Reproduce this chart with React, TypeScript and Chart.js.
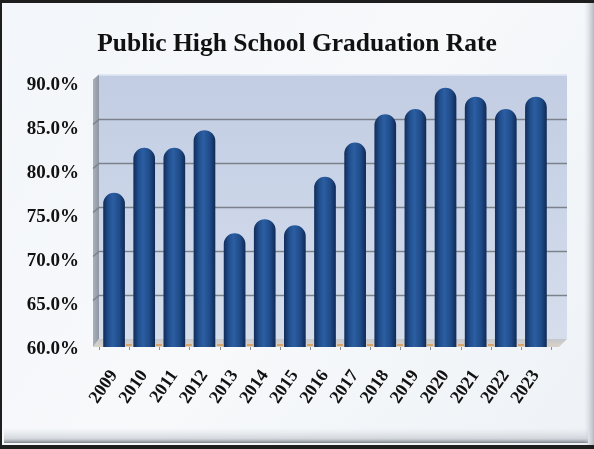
import React, { useEffect, useRef } from "react";
import { Chart, registerables } from "chart.js";
Chart.register(...registerables);

const chartTitle = "Public High School Graduation Rate";
const years = ["2009", "2010", "2011", "2012", "2013", "2014", "2015", "2016", "2017", "2018", "2019", "2020", "2021", "2022", "2023"];
const rates = [76.6, 81.7, 81.7, 83.7, 72.0, 73.6, 72.9, 78.4, 82.3, 85.5, 86.1, 88.5, 87.5, 86.1, 87.5];
const yTicks = [60, 65, 70, 75, 80, 85, 90];
const yMin = 59.1;
const yMax = 90;

const FONT = "'Liberation Serif', 'Times New Roman', serif";

const scenePlugin = {
  id: "scene",
  beforeDraw(chart: any) {
    const { ctx, width, height } = chart;
    ctx.save();
    ctx.fillStyle = "#1e1e1e";
    ctx.fillRect(0, 0, width, height);
    const g = ctx.createLinearGradient(0, 0, width, height);
    g.addColorStop(0, "#f3f6fa");
    g.addColorStop(0.5, "#f7f9fb");
    g.addColorStop(1, "#eef2f6");
    ctx.fillStyle = g;
    ctx.fillRect(2, 3, width - 2, height - 7);
    const sb = ctx.createLinearGradient(0, 428, 0, 443);
    sb.addColorStop(0, "rgba(205,210,216,0)");
    sb.addColorStop(0.7, "rgba(190,195,202,0.6)");
    sb.addColorStop(1, "rgba(125,130,138,1)");
    ctx.fillStyle = sb;
    ctx.fillRect(4, 428, width - 10, 15);
    const rs = ctx.createLinearGradient(584, 0, 594, 0);
    rs.addColorStop(0, "rgba(215,219,225,0)");
    rs.addColorStop(1, "rgba(180,185,192,1)");
    ctx.fillStyle = rs;
    ctx.fillRect(584, 3, 10, height - 7);
    ctx.restore();
  },
  beforeDatasetsDraw(chart: any) {
    const { ctx, chartArea } = chart;
    const y = chart.scales.y;
    const L = chartArea.left;
    const R = chartArea.right + 16;
    const top = y.getPixelForValue(yMax);
    const base = y.getPixelForValue(60);
    const bottom = chartArea.bottom;
    ctx.save();
    const wg = ctx.createLinearGradient(0, top, 0, base);
    wg.addColorStop(0, "#c2cde3");
    wg.addColorStop(0.5, "#cbd5e8");
    wg.addColorStop(1, "#d6deec");
    ctx.fillStyle = wg;
    ctx.fillRect(L, top, R - L, base - top);
    ctx.strokeStyle = "#e6ecf5";
    ctx.lineWidth = 1;
    ctx.beginPath();
    ctx.moveTo(L, top + 0.5);
    ctx.lineTo(R, top + 0.5);
    ctx.stroke();
    const sg = ctx.createLinearGradient(L - 6, 0, L, 0);
    sg.addColorStop(0, "#aab1bc");
    sg.addColorStop(1, "#8e96a3");
    ctx.fillStyle = sg;
    ctx.beginPath();
    ctx.moveTo(L - 6, top + 5);
    ctx.lineTo(L, top);
    ctx.lineTo(L, base);
    ctx.lineTo(L - 6, bottom);
    ctx.closePath();
    ctx.fill();
    ctx.strokeStyle = "#7c828c";
    ctx.lineWidth = 1.5;
    for (const v of yTicks) {
      if (v === 60 || v === 90) continue;
      const py = Math.round(y.getPixelForValue(v)) + 0.5;
      ctx.beginPath();
      ctx.moveTo(L - 6, py + 5);
      ctx.lineTo(L, py);
      ctx.lineTo(R, py);
      ctx.stroke();
    }
    const fg = ctx.createLinearGradient(0, base, 0, bottom);
    fg.addColorStop(0, "#c4c6cc");
    fg.addColorStop(1, "#d9d3c8");
    ctx.fillStyle = fg;
    ctx.beginPath();
    ctx.moveTo(L, base);
    ctx.lineTo(R, base);
    ctx.lineTo(R - 8, bottom);
    ctx.lineTo(L - 6, bottom);
    ctx.closePath();
    ctx.fill();
    const n = years.length;
    const cw = (chartArea.right - chartArea.left) / n;
    ctx.strokeStyle = "#d9a36a";
    ctx.lineWidth = 2;
    for (let i = 1; i < n; i++) {
      const px = Math.round(chartArea.left + i * cw);
      ctx.beginPath();
      ctx.moveTo(px - 3, bottom - 2);
      ctx.lineTo(px + 3, bottom - 2);
      ctx.stroke();
    }
    ctx.strokeStyle = "#8a8f98";
    ctx.lineWidth = 1;
    for (let i = 0; i <= n; i++) {
      const px = Math.round(chartArea.left + i * cw) + 0.5;
      ctx.beginPath();
      ctx.moveTo(px, bottom);
      ctx.lineTo(px, bottom + 3);
      ctx.stroke();
    }
    ctx.restore();
  },
};

function barFill(c: any) {
  const chart = c.chart;
  const area = chart.chartArea;
  if (!area || !chart.scales || !chart.scales.x) return "#1f4d8c";
  const cx = chart.scales.x.getPixelForValue(c.dataIndex);
  const cw = (area.right - area.left) / years.length;
  const bw = cw * 0.9 * 0.8;
  const g = chart.ctx.createLinearGradient(cx - bw / 2, 0, cx + bw / 2, 0);
  g.addColorStop(0, "#112c5a");
  g.addColorStop(0.25, "#22508f");
  g.addColorStop(0.45, "#2b5ea2");
  g.addColorStop(0.75, "#1f4b88");
  g.addColorStop(1, "#102a55");
  return g;
}

export default function App() {
  const ref = useRef<HTMLCanvasElement | null>(null);
  useEffect(() => {
    if (!ref.current) return;
    const chart = new Chart(ref.current, {
      type: "bar",
      data: {
        labels: years,
        datasets: [
          {
            data: rates,
            backgroundColor: barFill,
            borderWidth: 0,
            borderRadius: { topLeft: 11, topRight: 11, bottomLeft: 0, bottomRight: 0 },
            borderSkipped: false,
            barPercentage: 0.9,
            categoryPercentage: 0.8,
          },
        ],
      },
      options: {
        responsive: false,
        animation: false,
        devicePixelRatio: 1,
        layout: { padding: { left: 0, right: 0, top: 0, bottom: 0 } },
        plugins: {
          legend: { display: false },
          tooltip: { enabled: false },
          title: {
            display: true,
            text: chartTitle,
            color: "#111",
            font: { family: FONT, size: 25.5, weight: "bold", lineHeight: 1.2 },
            padding: { top: 29, bottom: 15 },
          },
        },
        scales: {
          x: {
            grid: { display: false },
            border: { display: false },
            ticks: {
              color: "#111",
              font: { family: FONT, size: 18, weight: "bold" },
              minRotation: 55,
              maxRotation: 55,
              padding: 11,
              autoSkip: false,
            },
            afterFit: (s: any) => {
              s.height = 102;
            },
          },
          y: {
            min: yMin,
            max: yMax,
            grid: { display: false },
            border: { display: false },
            afterBuildTicks: (s: any) => {
              s.ticks = yTicks.map((v) => ({ value: v }));
            },
            ticks: {
              color: "#111",
              font: { family: FONT, size: 19, weight: "bold" },
              padding: 12,
              labelOffset: 10,
              callback: (v: any) => Number(v).toFixed(1) + "%",
            },
            afterFit: (s: any) => {
              s.width = 99;
            },
          },
          yRight: {
            position: "right",
            display: true,
            min: yMin,
            max: yMax,
            grid: { display: false },
            border: { display: false },
            ticks: { display: false },
            afterFit: (s: any) => {
              s.width = 43;
            },
          },
        },
      },
      plugins: [scenePlugin],
    });
    return () => chart.destroy();
  }, []);
  return (
    <div style={{ position: "fixed", left: 0, top: 0, width: 594, height: 449 }}>
      <canvas ref={ref} width={594} height={449} style={{ display: "block" }} />
    </div>
  );
}
